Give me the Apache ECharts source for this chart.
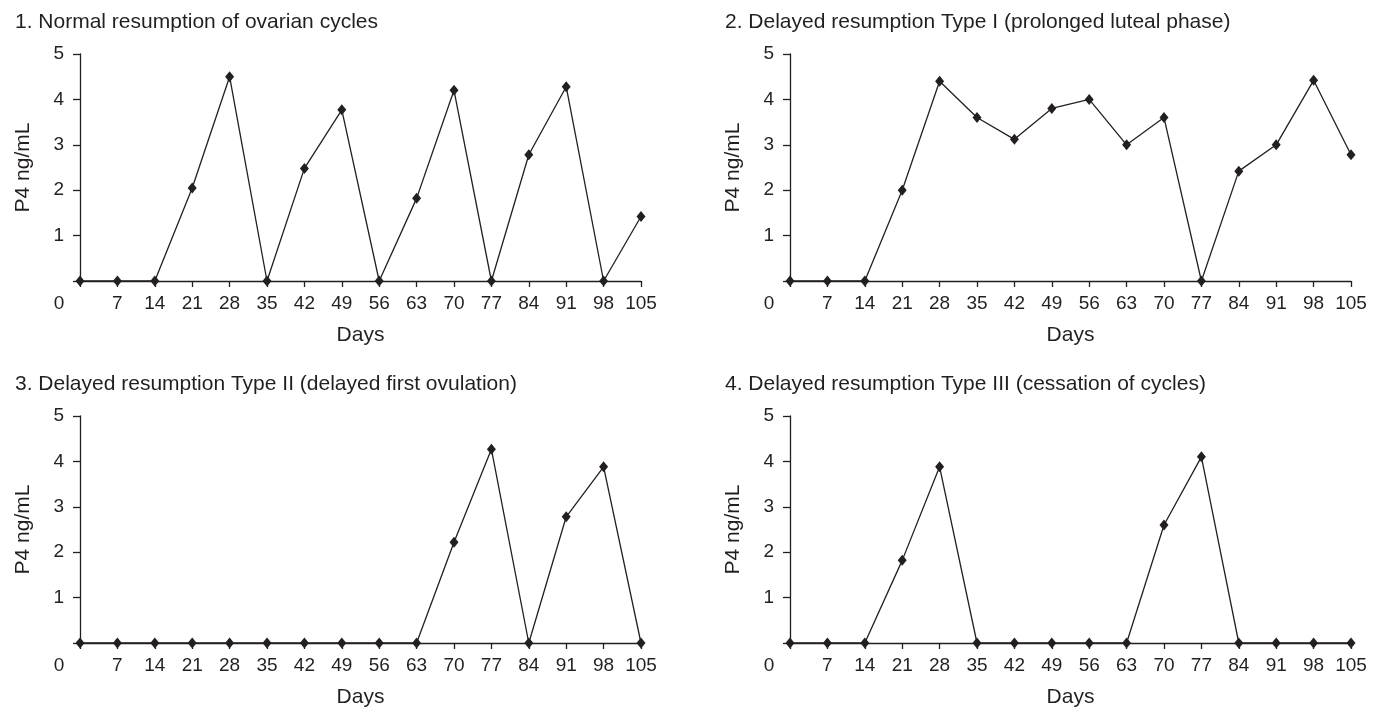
<!DOCTYPE html>
<html>
<head>
<meta charset="utf-8">
<script src="https://cdn.jsdelivr.net/npm/echarts@6/dist/echarts.min.js"></script>
<style>
html,body{margin:0;padding:0;background:#fff;}
#chart{width:1373px;height:710px;}
</style>
</head>
<body>
<div id="chart"></div>
<script>
// Days sampled (x categories / tick labels)
var days = [0, 7, 14, 21, 28, 35, 42, 49, 56, 63, 70, 77, 84, 91, 98, 105];
var yTicks = [1, 2, 3, 4, 5];

var panelTitles = [
  '1. Normal resumption of ovarian cycles',
  '2. Delayed resumption Type I (prolonged luteal phase)',
  '3. Delayed resumption Type II (delayed first ovulation)',
  '4. Delayed resumption Type III (cessation of cycles)'
];

// P4 ng/mL values per panel
var normalCycles   = [0, 0, 0, 2.05, 4.5, 0, 2.48, 3.77, 0, 1.82, 4.2, 0, 2.78, 4.28, 0, 1.42];
var delayedTypeI   = [0, 0, 0, 2.0, 4.4, 3.6, 3.12, 3.8, 4.0, 3.0, 3.6, 0, 2.42, 3.0, 4.42, 2.78];
var delayedTypeII  = [0, 0, 0, 0, 0, 0, 0, 0, 0, 0, 2.22, 4.27, 0, 2.78, 3.88, 0];
var delayedTypeIII = [0, 0, 0, 1.82, 3.88, 0, 0, 0, 0, 0, 2.6, 4.1, 0, 0, 0, 0];

var yName = 'P4 ng/mL';
var xName = 'Days';

var seriesValues = [normalCycles, delayedTypeI, delayedTypeII, delayedTypeIII];

var INK = '#231f20';
var FONT = '"Liberation Sans", Arial, Helvetica, sans-serif';

var grids = [
  {left: 80,  top: 54,  width: 561, height: 227},
  {left: 790, top: 54,  width: 561, height: 227},
  {left: 80,  top: 416, width: 561, height: 227},
  {left: 790, top: 416, width: 561, height: 227}
];
var titlePos = [
  {left: 15, top: 12},
  {left: 725, top: 12},
  {left: 15, top: 374},
  {left: 725, top: 374}
];

var option = {
  animation: false,
  backgroundColor: '#ffffff',
  title: panelTitles.map(function (t, i) {
    return {
      text: t, left: titlePos[i].left, top: titlePos[i].top, padding: 0,
      textStyle: {fontFamily: FONT, fontSize: 21, fontWeight: 'normal', color: INK}
    };
  }),
  grid: grids,
  xAxis: grids.map(function (g, i) {
    return {
      type: 'value', gridIndex: i, min: 0, max: 105, interval: 7,
      name: xName, nameLocation: 'middle', nameGap: 44,
      nameTextStyle: {fontFamily: FONT, fontSize: 21, color: INK},
      splitLine: {show: false},
      axisLine: {show: true, onZero: false, lineStyle: {color: INK, width: 1.3}},
      axisTick: {show: true, length: 6, inside: false, lineStyle: {color: INK, width: 1.3}},
      axisLabel: {
        margin: 13, fontFamily: FONT, fontSize: 19, color: INK,
        formatter: function (v) {
          return v === 0 ? '{z|0}' : String(v);
        },
        rich: {z: {fontFamily: FONT, fontSize: 19, color: INK, padding: [0, 42, 0, 0]}}
      }
    };
  }),
  yAxis: grids.map(function (g, i) {
    return {
      type: 'value', gridIndex: i, min: 0, max: 5, interval: 1,
      name: yName, nameLocation: 'middle', nameGap: 46, nameRotate: 90,
      nameTextStyle: {fontFamily: FONT, fontSize: 21, color: INK},
      splitLine: {show: false},
      axisLine: {show: true, lineStyle: {color: INK, width: 1.3}},
      axisTick: {show: true, length: 7, inside: false, lineStyle: {color: INK, width: 1.3}},
      axisLabel: {
        margin: 16, fontFamily: FONT, fontSize: 19, color: INK,
        formatter: function (v) { return yTicks.indexOf(v) >= 0 ? String(v) : ''; }
      }
    };
  }),
  series: seriesValues.map(function (vals, i) {
    return {
      type: 'line', xAxisIndex: i, yAxisIndex: i,
      data: days.map(function (d, k) { return [d, vals[k]]; }),
      symbol: 'diamond', symbolSize: [9, 11],
      lineStyle: {color: INK, width: 1.3},
      itemStyle: {color: INK},
      clip: false
    };
  })
};

var chart = echarts.init(document.getElementById('chart'), null, {renderer: 'canvas'});
chart.setOption(option);
</script>
</body>
</html>
